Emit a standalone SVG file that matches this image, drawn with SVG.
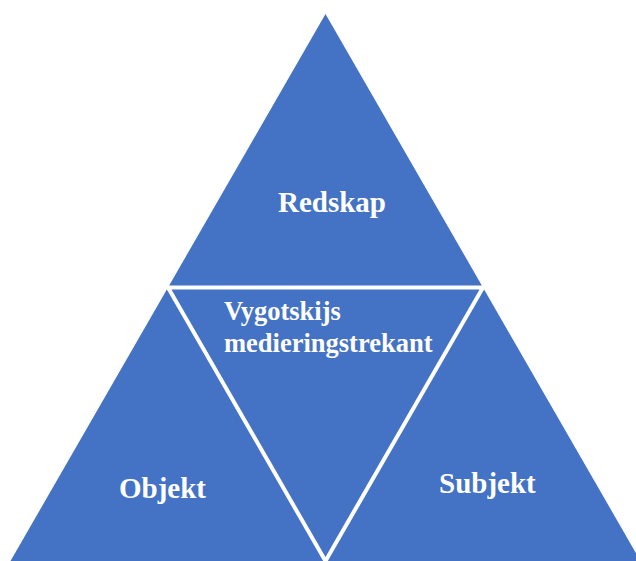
<svg xmlns="http://www.w3.org/2000/svg" width="636" height="561" viewBox="0 0 636 561">
<style>
.tri{fill:#4472C4;}
.sep{fill:none;stroke:#FFFFFF;stroke-width:4;stroke-linejoin:miter;}
.lbl{font-family:"Liberation Serif","Times New Roman",serif;font-weight:bold;fill:#FFFFFF;}
.big{font-size:29px;}
.mid{font-size:26.5px;}
</style>
<rect width="636" height="561" fill="#FFFFFF"/>
<g id="big-triangle">
<polygon class="tri" points="325.5,14 640.5,561 10.5,561"/>
</g>
<g id="connectors">
<polygon class="sep" points="168,287.5 483,287.5 325.5,561"/>
</g>
<g id="redskap">
<text class="lbl big" x="278" y="212">Redskap</text>
</g>
<g id="objekt">
<text class="lbl big" x="119" y="498">Objekt</text>
</g>
<g id="subjekt">
<text class="lbl big" x="439" y="493">Subjekt</text>
</g>
<g id="mediering">
<text class="lbl mid" x="224" y="320">Vygotskijs</text>
<text class="lbl mid" x="224" y="352">medieringstrekant</text>
</g>
</svg>
